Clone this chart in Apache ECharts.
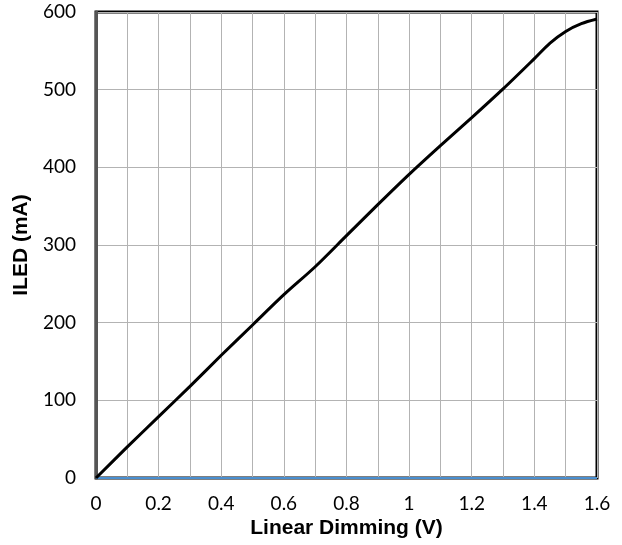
<!DOCTYPE html>
<html>
<head>
<meta charset="utf-8">
<script src="https://cdn.jsdelivr.net/npm/echarts@6/dist/echarts.min.js"></script>
<style>
    html, body { margin: 0; padding: 0; background: #fff; }
    #main { width: 622px; height: 545px; }
</style>
</head>
<body>
<div id="main"></div>
<script>
// 数据
const voltage = [0, 0.1, 0.2, 0.3, 0.4, 0.5, 0.6, 0.7, 0.8, 0.9, 1.0, 1.1, 1.2, 1.3, 1.4, 1.45, 1.5, 1.55, 1.6];
const iled = [0, 40, 79, 118, 158, 197, 236, 272, 312, 352, 391, 428, 464, 501, 540, 560, 575, 585, 591];
const baseline = [0, 0];
const baseX = [0, 1.6];

const chart = echarts.init(document.getElementById('main'));

const tickFont = { fontFamily: 'Lato', fontSize: 19, color: '#000' };
const titleFont = { fontFamily: 'Liberation Sans', fontWeight: 'bold', fontSize: 21, color: '#000' };

const option = {
    animation: false,
    grid: {
        left: 96,
        right: 25,
        top: 12,
        bottom: 67,
        containLabel: false,
        outerBoundsMode: 'none',
        show: true,
        borderColor: '#000',
        borderWidth: 3
    },
    xAxis: {
        type: 'value',
        min: 0,
        max: 1.6,
        interval: 0.1,
        name: 'Linear Dimming (V)',
        nameLocation: 'middle',
        nameGap: 35,
        nameTextStyle: titleFont,
        axisLine: { show: false },
        axisTick: { show: false },
        axisLabel: Object.assign({}, tickFont, {
            margin: 16,
            formatter: function(v) {
                const n = Math.round(v * 10);
                return n % 2 === 0 ? String(n / 10) : '';
            }
        }),
        splitLine: { show: true, lineStyle: { color: '#b3b3b3', width: 1 } }
    },
    yAxis: {
        type: 'value',
        min: 0,
        max: 600,
        interval: 100,
        name: 'ILED (mA)',
        nameLocation: 'middle',
        nameGap: 62,
        nameTextStyle: titleFont,
        axisLine: { show: true, lineStyle: { color: '#555', width: 3 } },
        axisTick: { show: false },
        axisLabel: Object.assign({}, tickFont, { margin: 20 }),
        splitLine: { show: true, lineStyle: { color: '#b3b3b3', width: 1 } }
    },
    series: [
        {
            type: 'line',
            data: baseX.map((x, i) => [x, baseline[i]]),
            symbol: 'none',
            lineStyle: { color: '#4a8fd0', width: 2 },
            z: 1
        },
        {
            type: 'line',
            data: voltage.map((x, i) => [x, iled[i]]),
            symbol: 'none',
            smooth: 0.3,
            lineStyle: { color: '#000', width: 3 },
            z: 3
        }
    ]
};

chart.setOption(option);
</script>
</body>
</html>
